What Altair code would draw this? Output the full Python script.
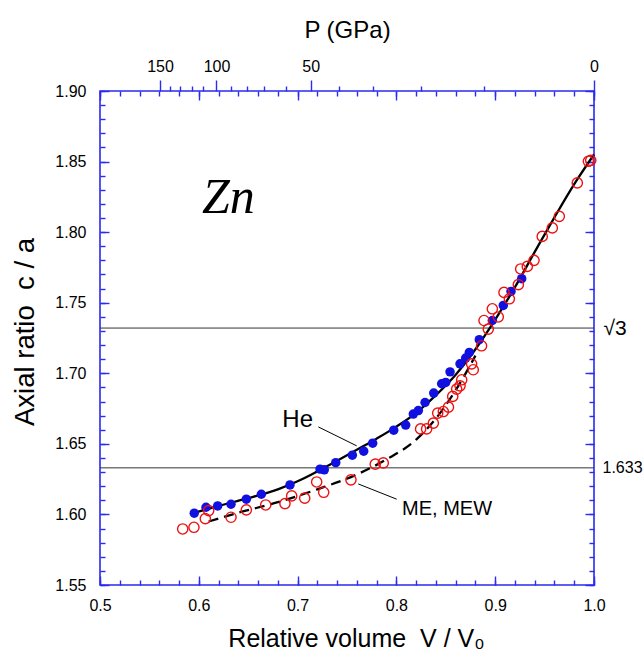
import altair as alt
import pandas as pd

# ---- data -----------------------------------------------------------------
# c/a of Zn compressed in helium (filled blue symbols)
he_v = [0.5954, 0.6073, 0.6191, 0.6326, 0.6481, 0.6633, 0.6923, 0.7227, 0.7270,
        0.7386, 0.7554, 0.7669, 0.7760, 0.7973, 0.8094, 0.8171, 0.8222, 0.8290,
        0.8378, 0.8458, 0.8499, 0.8543, 0.8644, 0.8701, 0.8738, 0.8839, 0.8971,
        0.9082, 0.9160, 0.9268]
he_ca = [1.6009, 1.6051, 1.6060, 1.6072, 1.6108, 1.6143, 1.6209, 1.6321, 1.6316,
         1.6367, 1.6420, 1.6448, 1.6505, 1.6597, 1.6633, 1.6711, 1.6736, 1.6793,
         1.6860, 1.6926, 1.6935, 1.7010, 1.7067, 1.7108, 1.7148, 1.7238, 1.7374,
         1.7481, 1.7580, 1.7670]

# c/a of Zn in methanol-ethanol(-water) media (open red symbols)
me_v = [0.5837, 0.5951, 0.6066, 0.6100, 0.6326, 0.6481, 0.6677, 0.6872, 0.6940,
        0.7072, 0.7193, 0.7264, 0.7540, 0.7786, 0.7867, 0.8245, 0.8306, 0.8374,
        0.8418, 0.8475, 0.8527, 0.8570, 0.8610, 0.8644, 0.8661, 0.8761, 0.8778,
        0.8862, 0.8887, 0.8930, 0.8971, 0.9031, 0.9089, 0.9143, 0.9234, 0.9258,
        0.9325, 0.9393, 0.9476, 0.9578, 0.9649, 0.9831, 0.9943, 0.9967]
me_ca = [1.5897, 1.5909, 1.5970, 1.6027, 1.5980, 1.6032, 1.6067, 1.6077, 1.6131,
         1.6115, 1.6230, 1.6157, 1.6245, 1.6356, 1.6365, 1.6606, 1.6606, 1.6647,
         1.6718, 1.6729, 1.6760, 1.6836, 1.6888, 1.6911, 1.6954, 1.7067, 1.7025,
         1.7195, 1.7374, 1.7313, 1.7457, 1.7399, 1.7573, 1.7528, 1.7628, 1.7739,
         1.7757, 1.7800, 1.7970, 1.8030, 1.8112, 1.8349, 1.8502, 1.8509]

# guide curves through each data set
he_fit_v = [0.597, 0.62, 0.65, 0.68, 0.70, 0.72, 0.74, 0.76, 0.78, 0.80, 0.82,
            0.84, 0.86, 0.88, 0.90, 0.92, 0.94, 0.96, 0.98, 1.00]
he_fit_ca = [1.6015, 1.6060, 1.6115, 1.6178, 1.6235, 1.6305, 1.6380, 1.6458,
             1.6537, 1.6622, 1.6720, 1.6845, 1.6990, 1.7170, 1.7380, 1.7610,
             1.7860, 1.8105, 1.8340, 1.8550]
me_fit_v = [0.610, 0.64, 0.68, 0.72, 0.76, 0.79, 0.82, 0.84, 0.86, 0.88]
me_fit_ca = [1.5950, 1.6012, 1.6087, 1.6178, 1.6283, 1.6390, 1.6530, 1.6680,
             1.6880, 1.7125]

# reference ratios
ref_ca = [1.7320508, 1.633]

# pressure scale (GPa) and the relative volume each pressure corresponds to
p_major = [150, 100, 50, 0]
p_major_v = [0.5607, 0.6179, 0.7132, 1.0]
p_minor = [140, 130, 120, 110, 90, 80, 70, 60, 40, 30, 20, 10]
p_minor_v = [0.5709, 0.5812, 0.5932, 0.6045, 0.6326, 0.6487, 0.6662, 0.6885,
             0.7423, 0.7759, 0.8245, 0.8890]

# axis tick values
x_major = [0.5, 0.6, 0.7, 0.8, 0.9, 1.0]
x_minor = [round(0.5 + 0.02 * i, 2) for i in range(26)]
y_major = [1.55, 1.60, 1.65, 1.70, 1.75, 1.80, 1.85, 1.90]
y_minor = [round(1.55 + 0.01 * i, 2) for i in range(36)]

# annotations
he_label_v, he_label_ca = 0.7156, 1.6621
me_label_v, me_label_ca = 0.8057, 1.5996
leader_v = [0.7210, 0.7614]
leader_ca = [1.6620, 1.6216]
leader_v2 = [0.7598, 0.8003]
leader_ca2 = [1.6486, 1.6108]

# ---- styling --------------------------------------------------------------
W, H = 494, 494
BLUE = "#2a2af0"
FONT = "Liberation Sans"
SP2 = " \u00a0"  # a double space that survives SVG whitespace collapsing

xs = alt.Scale(domain=[0.5, 1.0], nice=False, zero=False)
ys = alt.Scale(domain=[1.55, 1.90], nice=False, zero=False)


def tick_axis(orient, values, size, offset=0):
    return alt.Axis(orient=orient, values=values, tickSize=size, offset=offset,
                    labels=False, title=None, domain=False, grid=False,
                    tickColor=BLUE, tickWidth=1.4)


def X(field, axis):
    return alt.X(field, type="quantitative", scale=xs, axis=axis)


def Y(field, axis):
    return alt.Y(field, type="quantitative", scale=ys, axis=axis)


def label_expr(values, texts):
    expr = "''"
    for v, t in zip(values, texts):
        expr = f"abs(datum.value - {v}) < 1e-6 ? '{t}' : ({expr})"
    return expr


he_df = pd.DataFrame({"v": he_v, "ca": he_ca})
me_df = pd.DataFrame({"v": me_v, "ca": me_ca})
he_fit = pd.DataFrame({"v": he_fit_v, "ca": he_fit_ca})
me_fit = pd.DataFrame({"v": me_fit_v, "ca": me_fit_ca})
ref_df = pd.DataFrame({"ca": ref_ca})
he_lab = pd.DataFrame({"t": ["He"], "v": [he_label_v], "ca": [he_label_ca]})
me_lab = pd.DataFrame({"t": ["ME, MEW"], "v": [me_label_v], "ca": [me_label_ca]})
lead_df = pd.DataFrame({"v": leader_v, "ca": leader_ca,
                        "v2": leader_v2, "ca2": leader_ca2})
zn_df = pd.DataFrame({"t": ["Zn"], "v": [0.6032], "ca": [1.8138]})

# horizontal reference lines + left axis labels
ref_lines = alt.Chart(ref_df).mark_rule(color="#333333", strokeWidth=1).encode(
    y=Y("ca", alt.Axis(orient="left", values=y_major, format=".2f",
                       ticks=False, tickSize=0, labelPadding=14,
                       domain=False, grid=False,
                       title=f"Axial ratio{SP2}c / a", titleFontSize=27.5,
                       titleX=-67, titleY=240.5, titleAngle=270,
                       titleBaseline="alphabetic", titleAlign="center"))
)

# helium guide curve + bottom axis labels + right "sqrt3" label
he_line = alt.Chart(he_fit).mark_line(
    color="black", strokeWidth=2.3, interpolate="monotone"
).encode(
    x=X("v", alt.Axis(orient="bottom", values=x_major, format=".1f",
                      ticks=False, tickSize=0, labelPadding=25,
                      labelBaseline="alphabetic", domain=False, grid=False,
                      title=f"Relative volume{SP2}V / V₀", titleFontSize=25,
                      titleX=W / 2 + 9, titleY=61,
                      titleBaseline="alphabetic")),
    y=Y("ca", alt.Axis(orient="right", values=[ref_ca[0]],
                       labelExpr="'√3'", labelFontSize=21,
                       ticks=False, tickSize=0, labelPadding=9,
                       domain=False, grid=False, title=None)),
    order="v:Q",
)

me_line = alt.Chart(me_fit).mark_line(
    color="black", strokeWidth=2.3, strokeDash=[10, 6], interpolate="monotone"
).encode(
    x=X("v", tick_axis("top", x_major, 9, offset=-H)),
    y=Y("ca", tick_axis("right", y_major, 9, offset=-W)),
    order="v:Q",
)

he_pts = alt.Chart(he_df).mark_point(
    shape="circle", filled=True, color="#1010e0", size=90, opacity=1
).encode(
    x=X("v", tick_axis("top", x_minor, 5, offset=-H)),
    y=Y("ca", tick_axis("right", y_minor, 5, offset=-W)),
)

me_pts = alt.Chart(me_df).mark_point(
    shape="circle", filled=False, color="#ee1111", size=105, strokeWidth=1.4,
    opacity=1
).encode(
    x=X("v", tick_axis("bottom", x_major, 9, offset=-H)),
    y=Y("ca", tick_axis("left", y_major, 9, offset=-W)),
)

he_text = alt.Chart(he_lab).mark_text(
    font=FONT, fontSize=24, align="right", baseline="alphabetic", color="black"
).encode(
    x=X("v", tick_axis("bottom", x_minor, 5, offset=-H)),
    y=Y("ca", tick_axis("left", y_minor, 5, offset=-W)),
    text="t:N",
)

me_text = alt.Chart(me_lab).mark_text(
    font=FONT, fontSize=20, align="left", baseline="alphabetic", color="black"
).encode(
    x=X("v", None),
    y=Y("ca", None),
    text="t:N",
)

leaders = alt.Chart(lead_df).mark_rule(color="black", strokeWidth=1).encode(
    x=X("v", alt.Axis(orient="top", values=p_major_v,
                      labelExpr=label_expr(p_major_v, p_major),
                      tickSize=11, tickColor=BLUE, tickWidth=1.4,
                      labelPadding=9, labelBaseline="alphabetic",
                      domain=False, grid=False,
                      title="P (GPa)", titleFontSize=24,
                      titleY=-53.5, titleBaseline="alphabetic")),
    x2="v2:Q",
    y=Y("ca", alt.Axis(orient="right", values=[ref_ca[1]], format=".3f",
                       ticks=False, tickSize=0, labelPadding=8,
                       domain=False, grid=False, title=None)),
    y2="ca2:Q",
)

zn = alt.Chart(zn_df).mark_text(
    font="Liberation Serif", fontStyle="italic", fontSize=50,
    align="left", baseline="alphabetic", color="black"
).encode(
    x=X("v", tick_axis("top", p_minor_v, 5)),
    y=Y("ca", None),
    text="t:N",
)

chart = alt.layer(
    ref_lines, he_line, me_line, he_pts, me_pts, he_text, me_text, leaders, zn
).resolve_axis(
    x="independent", y="independent"
).properties(
    width=W, height=H,
    background="white",
    autosize=alt.AutoSizeParams(type="none"),
    padding={"left": 100, "top": 91, "right": 50, "bottom": 70},
).configure_view(
    stroke=BLUE, strokeWidth=1.6
).configure_axis(
    labelFont=FONT, labelFontSize=16, labelColor="black", labelFlush=False,
    titleFont=FONT, titleFontWeight="normal", titleColor="black",
)

chart.save("out.html", embed_options={"renderer": "svg", "actions": False})
